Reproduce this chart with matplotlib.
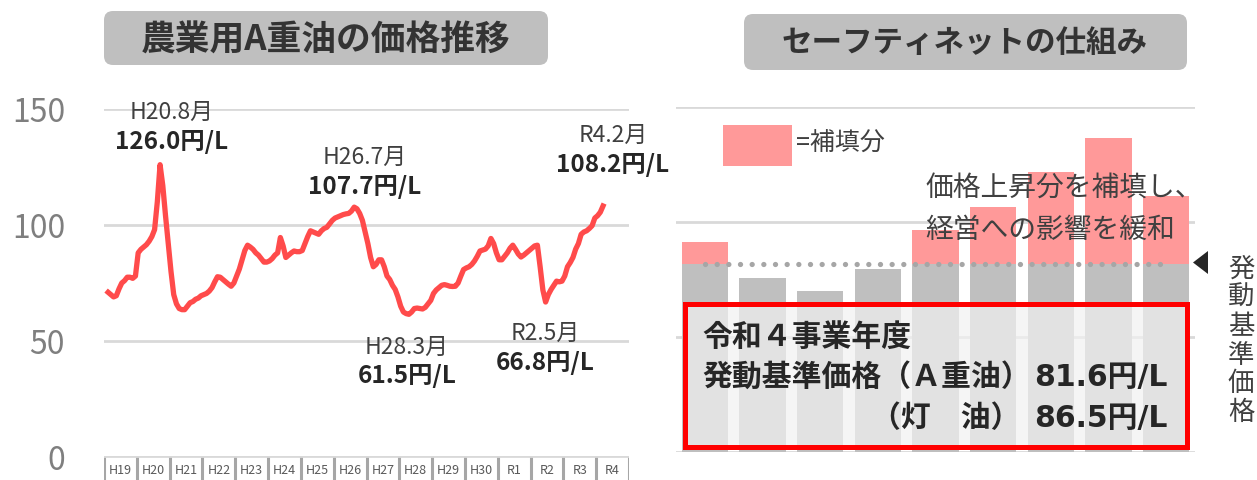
import numpy as np
import matplotlib
matplotlib.use('Agg')
import matplotlib.pyplot as plt
from matplotlib.patches import FancyBboxPatch, Rectangle, Polygon

plt.rcParams['font.family'] = ['Noto Sans CJK JP', 'DejaVu Sans']

# ---- data ----
years = ['H19', 'H20', 'H21', 'H22', 'H23', 'H24', 'H25', 'H26',
         'H27', 'H28', 'H29', 'H30', 'R1', 'R2', 'R3', 'R4']

# monthly price of A heavy oil (yen/L), Jan 2007 - Feb 2022
price = [
    71, 70, 69, 69.5, 72.5, 75, 76, 77.5, 77.5, 77, 78, 88,              # 2007
    89.5, 90.5, 91.5, 93, 95, 98, 110, 126, 117, 104, 92, 80,            # 2008
    70, 66, 64, 63.5, 63.5, 65, 66.5, 67, 68, 68.5, 69.5, 70,            # 2009
    70.5, 71.5, 73, 75.5, 77.7, 77.5, 76.5, 75.5, 74.5, 73.6, 75, 78,    # 2010
    81, 85, 89, 91.3, 90.5, 89.5, 88, 87, 85.5, 84, 84, 84.5,            # 2011
    85.5, 87, 88, 94.6, 91, 86, 87, 88, 88.8, 88.5, 88.5, 89,            # 2012
    92, 95, 97.5, 97, 96.5, 96, 97.5, 98.5, 99, 100.5, 102, 103,         # 2013
    103.5, 104, 104.5, 104.8, 105, 106, 107.7, 107, 105, 102, 97, 92,    # 2014
    86, 82, 83, 85, 85, 82, 78, 76.5, 74, 72.2, 69, 65,                  # 2015
    62.5, 61.8, 61.5, 62.5, 64, 64.2, 64, 63.8, 64.5, 66, 67.5, 70.5,    # 2016
    72, 73, 74, 74.3, 74, 73.6, 73.5, 73.6, 75, 78, 80.8, 81.5,          # 2017
    82, 83, 84.5, 86.5, 88.8, 89.2, 89.6, 91, 94.2, 92, 88, 85,          # 2018
    85, 86.5, 88, 90, 91.3, 89.5, 87.5, 86.2, 87, 88, 89, 90,            # 2019
    91, 91.3, 82, 72, 66.8, 70, 72.2, 74, 75.8, 75.5, 75.8, 78,          # 2020
    82, 83.8, 86, 89.6, 92, 96, 97, 97.5, 98.5, 99.7, 103, 104,          # 2021
    105.5, 108.2,                                                        # 2022
]

# (month label, value label, centre x, y of 1st line, y of 2nd line) in pixels
point_labels = [
    ('H20.8月', '126.0円/L', 172, 112, 142),
    ('H26.7月', '107.7円/L', 365, 157, 187),
    ('R4.2月', '108.2円/L', 613, 135, 165),
    ('H28.3月', '61.5円/L', 407, 347, 376),
    ('R2.5月', '66.8円/L', 545, 333, 363),
]

bar_values = [91.4, 75.7, 69.9, 79.7, 96.5, 106.4, 121.6, 136.5, 111.4]
base_price = 81.6

W, H = 1257, 481
fig = plt.figure(figsize=(W / 100, H / 100), dpi=100)
fig.patch.set_facecolor('white')

def box(l, t, r, b):
    return [l / W, 1 - b / H, (r - l) / W, (b - t) / H]

dark = '#404040'
grid_c = '#D9D9D9'

# ---- left: price line ----
ax = fig.add_axes(box(104, 110, 629, 458))
months = np.arange(len(price))
ax.plot(months, price, color='#FF4B4B', lw=3.8, solid_joinstyle='round', zorder=3)
ax.set_xlim(-1.5, 190.5)
ax.set_ylim(0, 150)
ax.set_yticks([0, 50, 100, 150])
ax.set_xticks([])
ax.yaxis.grid(True, color=grid_c, lw=2)
ax.tick_params(axis='y', length=0, pad=28, labelsize=23, labelcolor='#7F7F7F')
for s in ax.spines.values():
    s.set_visible(False)
ax.set_facecolor('none')

# category boxes under the line chart
axc = fig.add_axes(box(104, 457, 629, 481))
axc.set_xlim(0, len(years))
axc.set_ylim(0, 1)
axc.vlines(np.arange(len(years) + 1), 0, 1, color='#A6A6A6', lw=2.2)
axc.axhline(1, color=grid_c, lw=2)
for i, yr in enumerate(years):
    axc.text(i + 0.5, 0.42, yr, ha='center', va='center', fontsize=9, color='#595959')
axc.axis('off')

# ---- right: safety net bars ----
ax2 = fig.add_axes(box(676, 108, 1195, 453))
idx = np.arange(len(bar_values))
vals = np.array(bar_values)
gray_part = np.minimum(vals, base_price)
pink_part = np.maximum(vals - base_price, 0)
ax2.bar(idx, gray_part, width=0.8, color='#BFBFBF', zorder=2)
ax2.bar(idx, pink_part, width=0.8, bottom=gray_part, color='#FF9999', zorder=2)
ax2.plot([idx[0], idx[-1]], [base_price, base_price], color='#A6A6A6', lw=3.8,
         linestyle=(0, (0.01, 2.2)), dash_capstyle='round', zorder=3)
ax2.set_xlim(-0.5, len(bar_values) - 0.5)
ax2.set_ylim(0, 150)
ax2.set_yticks([0, 50, 100, 150])
ax2.set_xticks([])
ax2.yaxis.grid(True, color=grid_c, lw=2)
ax2.set_axisbelow(True)
ax2.tick_params(axis='y', length=0, labelleft=False)
for s in ax2.spines.values():
    s.set_visible(False)
ax2.set_facecolor('none')

# ---- overlay in pixel coordinates ----
ov = fig.add_axes([0, 0, 1, 1], zorder=10)
ov.set_xlim(0, W)
ov.set_ylim(H, 0)
ov.axis('off')
ov.patch.set_alpha(0)

# title boxes
ov.add_patch(FancyBboxPatch((104, 12), 444, 54, boxstyle='round,pad=0,rounding_size=9',
                            fc='#BFBFBF', ec='none'))
ov.text(326, 40, '農業用A重油の価格推移', ha='center', va='center', fontsize=25,
        fontweight='bold', color='#333333')
ov.add_patch(FancyBboxPatch((744, 15), 443, 56, boxstyle='round,pad=0,rounding_size=9',
                            fc='#BFBFBF', ec='none'))
ov.text(965, 43, 'セーフティネットの仕組み', ha='center', va='center', fontsize=22,
        fontweight='bold', color='#333333')

# point labels on the line chart
for m_lab, v_lab, cx, y1, y2 in point_labels:
    ov.text(cx, y1, m_lab, ha='center', va='center', fontsize=16.5, color=dark)
    ov.text(cx, y2, v_lab, ha='center', va='center', fontsize=17.5, fontweight='bold',
            color='#262626')

# legend
ov.add_patch(Rectangle((723, 126), 69, 41, fc='#FF9999', ec='none'))
ov.text(796, 144, '=補填分', ha='left', va='center', fontsize=18, color=dark)

ov.text(925, 188, '価格上昇分を補填し、', ha='left', va='center', fontsize=20, color=dark)
ov.text(925, 230, '経営への影響を緩和', ha='left', va='center', fontsize=20, color=dark)

# baseline marker and vertical label
ov.add_patch(Polygon([(1193, 263.5), (1208, 252), (1208, 275)], closed=True,
                     fc='#262626', ec='none'))
for k, ch in enumerate('発動基準価格'):
    ov.text(1241, 269 + k * 28.7, ch, ha='center', va='center', fontsize=19, color=dark)

# red info box
ov.add_patch(Rectangle((684.5, 304.5), 502, 143.5, fc='#F2F2F2', alpha=0.7, ec='none'))
ov.add_patch(Rectangle((684.5, 304.5), 502, 143.5, fc='none', ec='#FF0000', lw=3.6))
txt = dict(va='center', fontsize=21.5, fontweight='bold', color='#262626')
num_font = ['DejaVu Sans', 'Noto Sans CJK JP']
ov.text(702, 337, '令和４事業年度', ha='left', **txt)
ov.text(702, 377, '発動基準価格（Ａ重油）', ha='left', **txt)
ov.text(1168, 378, '81.6円/L', ha='right', family=num_font, **txt)
ov.text(1020, 418, '（灯　油）', ha='right', **txt)
ov.text(1168, 419, '86.5円/L', ha='right', family=num_font, **txt)

fig.savefig('out.png', dpi=100)
